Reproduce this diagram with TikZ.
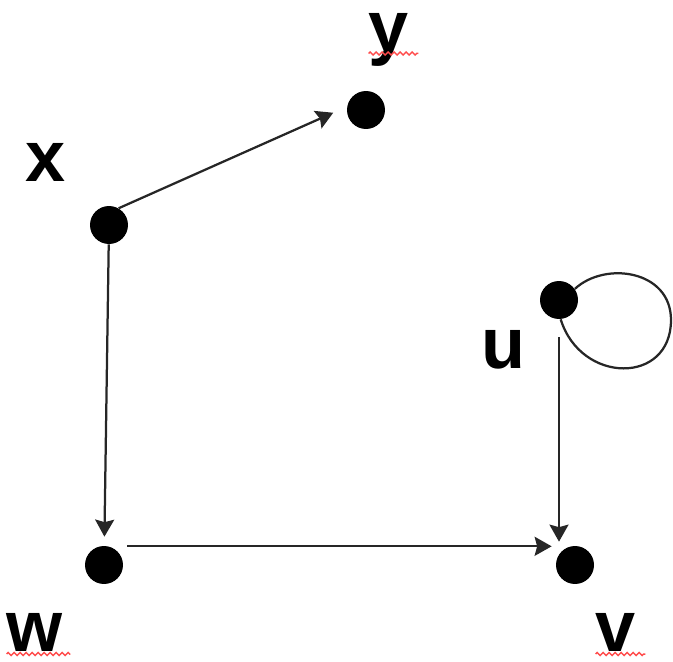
\documentclass[tikz,border=0pt]{standalone}
\usepackage{fontspec}
\setmainfont{Liberation Sans}
\usetikzlibrary{arrows.meta,decorations.pathmorphing}
\begin{document}
\begin{tikzpicture}[x=0.02cm,y=-0.02cm,
  vert/.style={circle,fill=black,inner sep=0pt,minimum size=7.6mm},
  lbl/.style={inner sep=0pt,anchor=base,font=\fontsize{41}{41}\selectfont\bfseries},
  arr/.style={draw=black!85,line width=0.45mm,-{Stealth[length=3.4mm,width=3.8mm,inset=0.5mm]}},
  squig/.style={draw=red!70,line width=0.3mm,decorate,decoration={zigzag,segment length=1.2mm,amplitude=0.3mm}}]
\useasboundingbox (0,0) rectangle (673,662);
% vertices
\node[vert] (y) at (366,110) {};
\node[vert] (x) at (109,225) {};
\node[vert] (u) at (559,300) {};
\node[vert] (w) at (104,565) {};
\node[vert] (v) at (575,565) {};
\coordinate (loopR) at (671,320);
% labels
\node[lbl] (ylbl) at (389,52) {y};
\node[lbl] (xlbl) at (46,182) {x};
\node[lbl] (ulbl) at (503,368) {u};
\node[lbl] (wlbl) at (35,651) {w};
\node[lbl] (vlbl) at (616,651) {v};
% spelling marks
\draw[squig] ([yshift=-0.3mm]ylbl.base west) -- ([xshift=1.8mm,yshift=-0.3mm]ylbl.base east);
\draw[squig] ([yshift=-0.6mm]wlbl.base west) -- ([xshift=1.4mm,yshift=-0.6mm]wlbl.base east);
\draw[squig] ([yshift=-0.6mm]vlbl.base west) -- ([xshift=1.8mm,yshift=-0.6mm]vlbl.base east);
% edges
\draw[arr,shorten >=3mm] (x.60) -- (y.170);
\draw[arr,shorten >=1.8mm] (x) -- (w);
\draw[arr,shorten <=3.6mm,shorten >=0.8mm] (w.75) -- (w.75 -| v.west);
\draw[arr,shorten <=3.6mm,shorten >=0.8mm] (u.south) -- (u.south |- v.north);
\draw[black!85,line width=0.45mm] (u.35) .. controls +(30,-28) and +(0,-50) .. (loopR)
  .. controls +(0,65) and +(20,65) .. (u.-85);
\end{tikzpicture}
\end{document}
